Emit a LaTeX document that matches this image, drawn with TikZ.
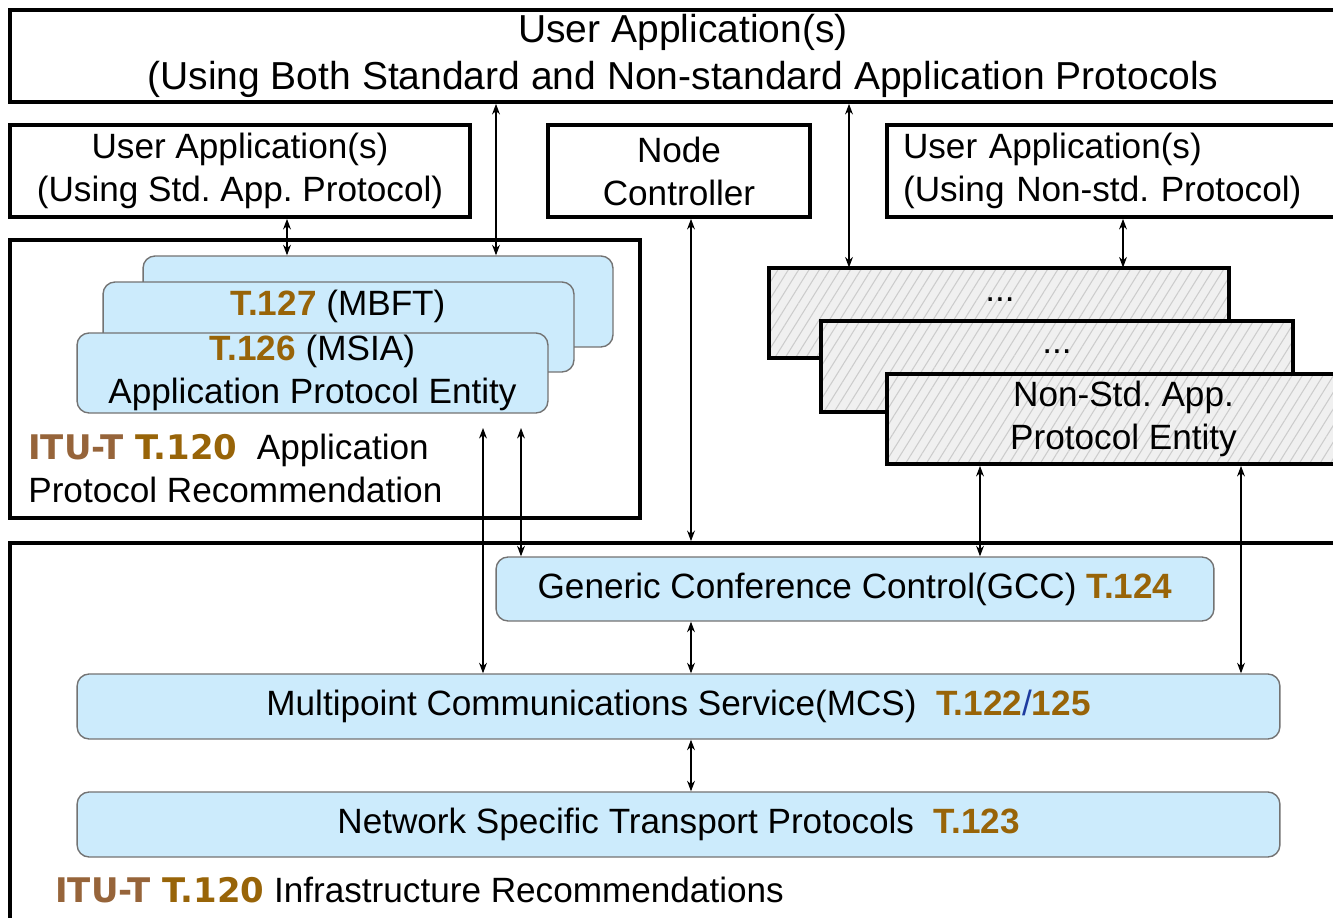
\documentclass[tikz,border=0pt]{standalone}
\usepackage{fontspec}
\setmainfont{Liberation Sans}
\newfontfamily\itufont{DejaVu Sans}
\usetikzlibrary{arrows.meta,patterns.meta}
\definecolor{apblue}{RGB}{204,235,252}
\definecolor{tbrown}{RGB}{152,100,8}
\definecolor{ibrown}{RGB}{150,100,58}
\definecolor{slashblue}{RGB}{30,60,160}
\newcommand{\tnum}[1]{\textcolor{tbrown}{\textbf{#1}}}
\newcommand{\itu}{{\itufont\bfseries\fontsize{19.3}{23}\selectfont\textcolor{ibrown}{ITU-T} \textcolor{tbrown}{T.120}}}
\tikzset{
	frame/.style={draw=black, line width=2.2pt, fill=white, inner sep=0pt},
	apbox/.style={draw=black!55, line width=0.8pt, fill=apblue, rounded corners=0.24cm, inner sep=0pt},
	marble/.style={draw=black, line width=2.2pt, preaction={fill=black!6}, pattern={Lines[angle=58,distance=5pt,line width=0.6pt]}, pattern color=black!20, inner sep=0pt},
	link/.style={<->, >={Stealth[length=6pt,width=4.5pt]}, line width=0.6pt}
}
\begin{document}
\begin{tikzpicture}[x=0.02cm, y=-0.02cm, font=\fontsize{20}{24.5}\selectfont]
			%%%%% START %%%%%
			
			\useasboundingbox (0,0) rectangle (1333,918);
			\fill[white] (0,0) rectangle (1333,918);
			\clip (0,0) rectangle (1333,918);
			
			% user applications
			\node[frame, minimum width=26.92cm, minimum height=1.84cm, align=center, font=\fontsize{22.2}{26.5}\selectfont] (uboth) at (683,56) {User Application(s)\\(Using Both Standard and Non-standard Application Protocols};
			\node[frame, minimum width=9.2cm, minimum height=1.84cm, align=center] (ustd) at (240,171) {User Application(s)\\(Using Std.\ App.\ Protocol)};
			\node[frame, minimum width=5.24cm, minimum height=1.84cm, align=center] (nctrl) at (679,171) {Node\\Controller};
			\node[frame, minimum width=9.46cm, minimum height=1.84cm, text width=8.82cm, align=left] (unstd) at (1123.5,171) {User Application(s)\\(Using Non-std.\ Protocol)};
			
			% standard application protocols
			\node[frame, minimum width=12.6cm, minimum height=5.56cm] (appbox) at (325,379) {};
			\node[apbox, minimum width=9.4cm, minimum height=1.82cm] (apB) at (378,301.5) {};
			\node[apbox, minimum width=9.42cm, minimum height=1.8cm] (apM) at (338.5,327) {};
			\node (t127) at (338,306) {\tnum{T.127} (MBFT)};
			\node[apbox, minimum width=9.42cm, minimum height=1.6cm, align=center] (apF) at (312.5,373) {\tnum{T.126} (MSIA)\\Application Protocol Entity};
			\node[anchor=west, inner sep=0pt, align=left] (applbl) at (28,468) {\itu\ \ Application\\Protocol Recommendation};
			
			% non-standard application protocols
			\node[marble, minimum width=9.2cm, minimum height=1.8cm] (tB) at (999,313) {};
			\node (tBdots) at (1000,300) {...};
			\node[marble, minimum width=9.44cm, minimum height=1.82cm] (tM) at (1057,366.5) {};
			\node (tMdots) at (1057,352) {...};
			\node[marble, minimum width=9.46cm, minimum height=1.8cm, align=center] (tF) at (1123.5,419) {Non-Std.\ App.\\Protocol Entity};
			
			% infrastructure
			\node[frame, minimum width=27cm, minimum height=7.74cm] (infra) at (685,736.5) {};
			\node[apbox, minimum width=14.36cm, minimum height=1.28cm] (gcc) at (855,589) {Generic Conference Control(GCC) \tnum{T.124}};
			\node[apbox, minimum width=24.06cm, minimum height=1.3cm] (mcs) at (678.5,706.5) {Multipoint Communications Service(MCS)\ \ \tnum{T.122}\textcolor{slashblue}{/}\tnum{125}};
			\node[apbox, minimum width=24.06cm, minimum height=1.3cm] (nsp) at (678.5,824.5) {Network Specific Transport Protocols\ \ \tnum{T.123}};
			\node[anchor=west, inner sep=0pt] (infralbl) at (55,890) {\itu\ Infrastructure Recommendations};
			
			% arrows
			\coordinate (cA) at (287,0);
			\coordinate (cB) at (496,0);
			\coordinate (cC) at (691,0);
			\coordinate (cD) at (849,0);
			\coordinate (cE) at (1123,0);
			\coordinate (cF) at (980,0);
			\coordinate (cG) at (1241,0);
			\coordinate (upA) at (483,428);
			\coordinate (upB) at (521,428);
			
			\draw[link] (ustd.south -| cA) -- (apB.north -| cA);
			\draw[link] (uboth.south -| cB) -- (apB.north -| cB);
			\draw[link] (nctrl.south -| cC) -- (infra.north -| cC);
			\draw[link] (uboth.south -| cD) -- (tB.north -| cD);
			\draw[link] (unstd.south -| cE) -- (tB.north -| cE);
			\draw[link] (upA) -- (upA |- mcs.north);
			\draw[link] (upB) -- (upB |- gcc.north);
			\draw[link] (tF.south -| cF) -- (gcc.north -| cF);
			\draw[link] (tF.south -| cG) -- (mcs.north -| cG);
			\draw[link] (gcc.south -| cC) -- (mcs.north -| cC);
			\draw[link] (mcs.south -| cC) -- (nsp.north -| cC);
			
			%%%%% END %%%%%
\end{tikzpicture}
\end{document}
